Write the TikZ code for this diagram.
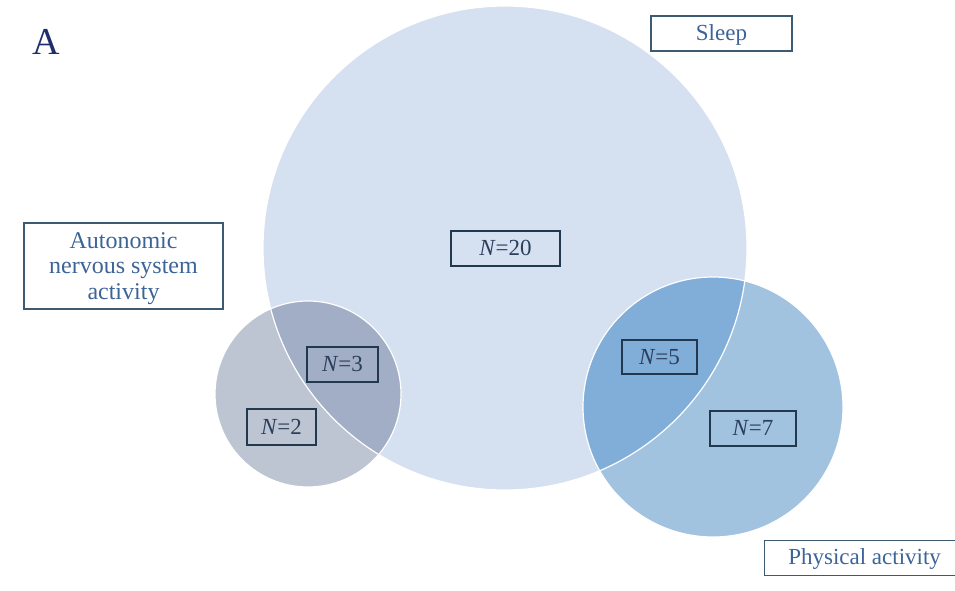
\documentclass[tikz,border=0pt]{standalone}
\usepackage{fontspec}
\setmainfont{Liberation Serif}
\definecolor{sleepc}{HTML}{D5E0F0}
\definecolor{ansc}{HTML}{BEC5D2}
\definecolor{ansx}{HTML}{A2AEC5}
\definecolor{pac}{HTML}{A2C3E0}
\definecolor{pax}{HTML}{80AED9}
\definecolor{lbltext}{HTML}{3C6496}
\definecolor{lblline}{HTML}{3D5A73}
\definecolor{nline}{HTML}{22384F}
\definecolor{ntext}{HTML}{2B3F5C}
\definecolor{navy}{HTML}{1F2F6B}
\tikzset{
  setlabel/.style={draw=lblline, line width=1.2pt, text=lbltext, inner sep=0pt,
    font=\fontsize{23}{25}\selectfont, align=center},
  countbox/.style={draw=nline, line width=1.2pt, text=ntext, inner sep=0pt,
    font=\fontsize{23}{25}\selectfont, text height=15pt, text depth=1pt},
  rim/.style={draw=white, line width=1.2pt}
}
\begin{document}
\begin{tikzpicture}[x=1pt,y=-1pt]
\useasboundingbox (0,0) rectangle (955,590);
\coordinate (cs) at (505,248);
\coordinate (ca) at (308,394);
\coordinate (cp) at (713,407);
% sets
\fill[sleepc] (cs) circle[radius=242pt];
\fill[ansc] (ca) circle[radius=93pt];
\fill[pac] (cp) circle[radius=130pt];
\begin{scope}
  \clip (cs) circle[radius=242pt];
  \fill[ansx] (ca) circle[radius=93pt];
  \fill[pax] (cp) circle[radius=130pt];
\end{scope}
\draw[rim] (cs) circle[radius=242pt];
\draw[rim] (ca) circle[radius=93pt];
\draw[rim] (cp) circle[radius=130pt];
% panel letter
\node[text=navy, font=\fontsize{38}{40}\selectfont, inner sep=0pt] (panel) at (46.5,41.5) {A};
% set labels
\node[setlabel, minimum width=141pt, minimum height=35pt, text height=17pt, text depth=4pt] (lsleep) at (721.5,33.5) {Sleep};
\node[setlabel, minimum width=199pt, minimum height=86pt] (lans) at (123.5,266) {};
\node[text=lbltext, inner sep=0pt, align=center, font=\fontsize{24}{25.5}\selectfont] (lanstext) at (123.5,268.5) {Autonomic\\nervous system\\activity};
\node[setlabel, minimum width=200pt, minimum height=35pt, text height=17pt, text depth=4pt, anchor=west] (lpa) at (764,558) {Physical activity};
% counts
\node[countbox, minimum width=109pt, minimum height=35pt] (n20) at (505.5,248.5) {\textit{N}=20};
\node[countbox, minimum width=71pt, minimum height=35pt] (n3) at (342.5,364.5) {\textit{N}=3};
\node[countbox, minimum width=69pt, minimum height=36pt] (n2) at (281.5,427) {\textit{N}=2};
\node[countbox, minimum width=75pt, minimum height=34pt] (n5) at (659.5,357) {\textit{N}=5};
\node[countbox, minimum width=86pt, minimum height=35pt] (n7) at (753,428.5) {\textit{N}=7};
\end{tikzpicture}
\end{document}
